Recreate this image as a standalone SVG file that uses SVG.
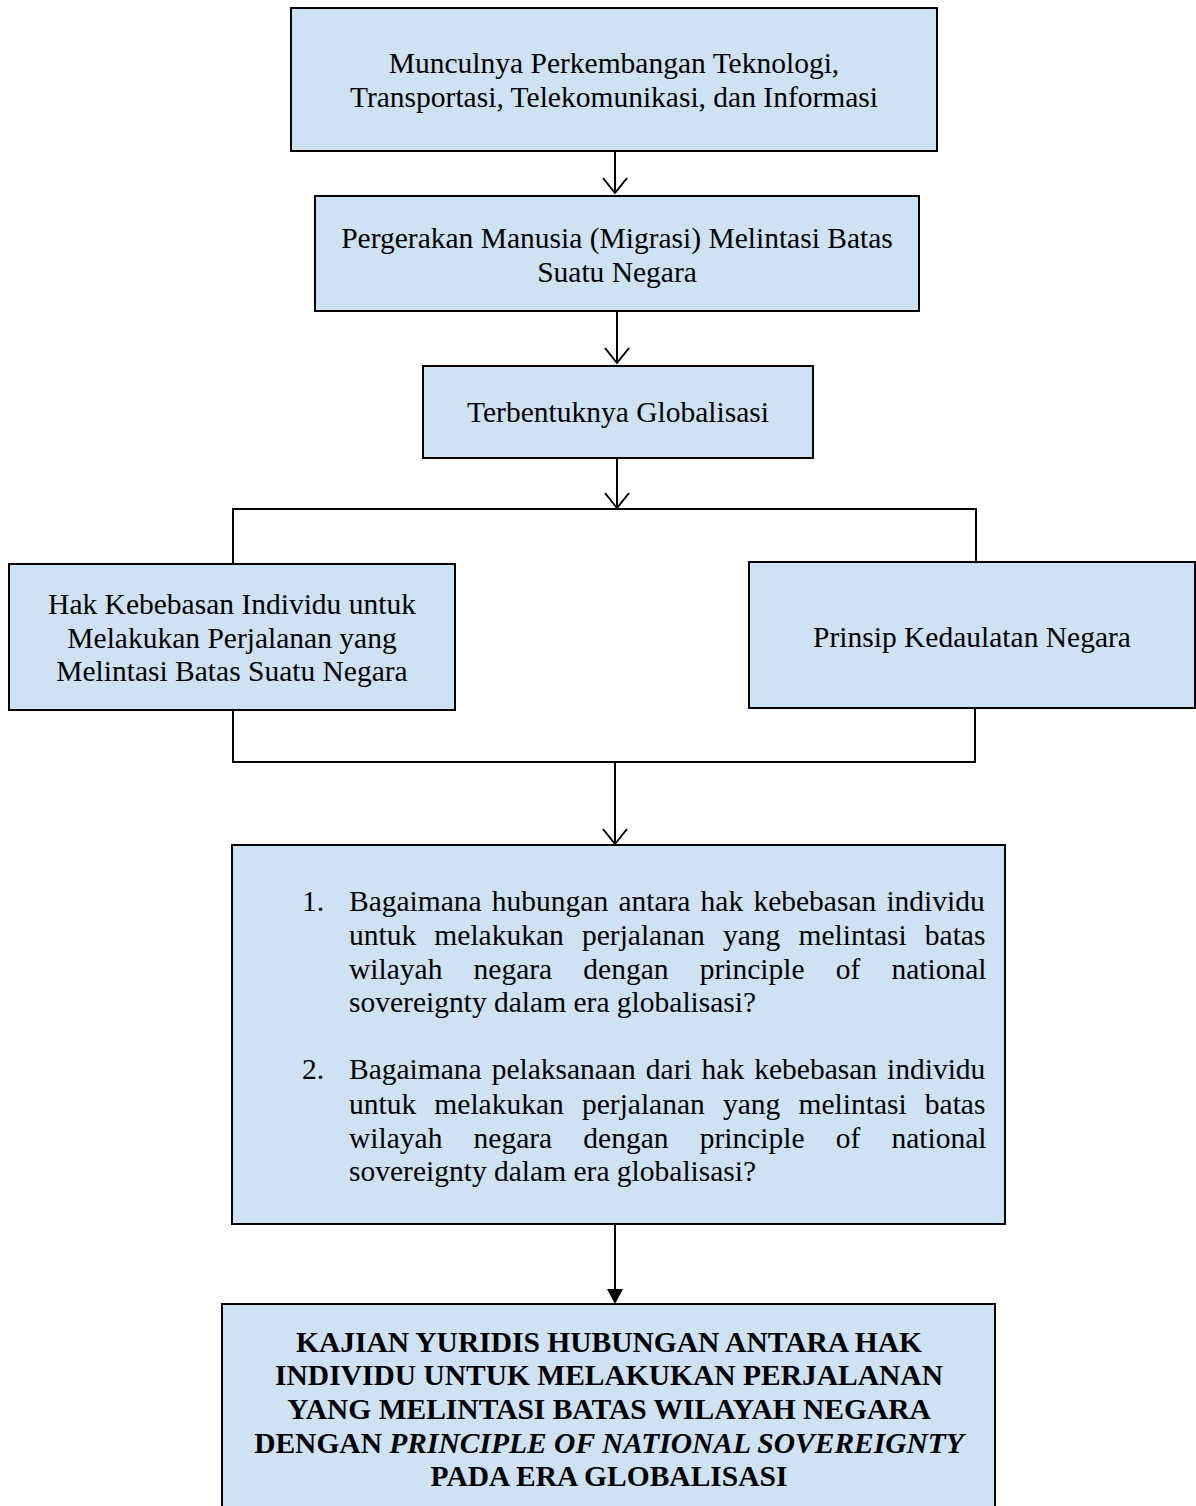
<svg xmlns="http://www.w3.org/2000/svg" width="1196" height="1506" viewBox="0 0 1196 1506">
<style>
.box{fill:#cfe2f3;stroke:#000;stroke-width:2}
.t{font-family:"Liberation Serif","Times New Roman",serif;font-size:29.5px;fill:#000}
.c{text-anchor:middle}
.b{font-weight:bold}
.ln{fill:none;stroke:#000;stroke-width:2}
</style>
<rect width="1196" height="1506" fill="#fff"/>
<g id="connectors">
<path class="ln" d="M615 151V192M603 178L615 193L627 178"/>
<path class="ln" d="M617 311V362M605 348L617 363L629 348"/>
<path class="ln" d="M617 458V507M605 493L617 508L629 493"/>
<path class="ln" d="M233 564V509H976V562"/>
<path class="ln" d="M233 710V762H975V708"/>
<path class="ln" d="M615 762V843M603 829L615 844L627 829"/>
<path class="ln" d="M615 1224V1290"/>
<path d="M607 1289H623L615 1304Z" fill="#000"/>
</g>
<g id="n1"><rect class="box" x="291" y="8" width="646" height="143"/>
<text class="t c" x="614" y="73">Munculnya Perkembangan Teknologi,</text>
<text class="t c" x="614" y="107">Transportasi, Telekomunikasi, dan Informasi</text></g>
<g id="n2"><rect class="box" x="315" y="196" width="604" height="115"/>
<text class="t c" x="617" y="248">Pergerakan Manusia (Migrasi) Melintasi Batas</text>
<text class="t c" x="617" y="282">Suatu Negara</text></g>
<g id="n3"><rect class="box" x="423" y="366" width="390" height="92"/>
<text class="t c" x="618" y="422">Terbentuknya Globalisasi</text></g>
<g id="n4"><rect class="box" x="9" y="564" width="446" height="146"/>
<text class="t c" x="232" y="614">Hak Kebebasan Individu untuk</text>
<text class="t c" x="232" y="648">Melakukan Perjalanan yang</text>
<text class="t c" x="232" y="681">Melintasi Batas Suatu Negara</text></g>
<g id="n5"><rect class="box" x="749" y="562" width="446" height="146"/>
<text class="t c" x="972" y="647">Prinsip Kedaulatan Negara</text></g>
<g id="n6"><rect class="box" x="232" y="845" width="773" height="379"/>
<text class="t" x="302" y="911">1.</text>
<text class="t" x="349" y="911" word-spacing="2.8">Bagaimana hubungan antara hak kebebasan individu</text>
<text class="t" x="349" y="945" word-spacing="10.8">untuk melakukan perjalanan yang melintasi batas</text>
<text class="t" x="349" y="979" word-spacing="23.8">wilayah negara dengan principle of national</text>
<text class="t" x="349" y="1012">sovereignty dalam era globalisasi?</text>
<text class="t" x="302" y="1079">2.</text>
<text class="t" x="349" y="1079" word-spacing="2.6">Bagaimana pelaksanaan dari hak kebebasan individu</text>
<text class="t" x="349" y="1114" word-spacing="10.8">untuk melakukan perjalanan yang melintasi batas</text>
<text class="t" x="349" y="1148" word-spacing="23.8">wilayah negara dengan principle of national</text>
<text class="t" x="349" y="1181">sovereignty dalam era globalisasi?</text></g>
<g id="n7"><rect class="box" x="222" y="1304" width="773" height="210"/>
<text class="t c b" x="609" y="1352">KAJIAN YURIDIS HUBUNGAN ANTARA HAK</text>
<text class="t c b" x="609" y="1385">INDIVIDU UNTUK MELAKUKAN PERJALANAN</text>
<text class="t c b" x="609" y="1419">YANG MELINTASI BATAS WILAYAH NEGARA</text>
<text class="t c b" x="609" y="1453">DENGAN <tspan font-style="italic">PRINCIPLE OF NATIONAL SOVEREIGNTY</tspan></text>
<text class="t c b" x="609" y="1486">PADA ERA GLOBALISASI</text></g>
</svg>
